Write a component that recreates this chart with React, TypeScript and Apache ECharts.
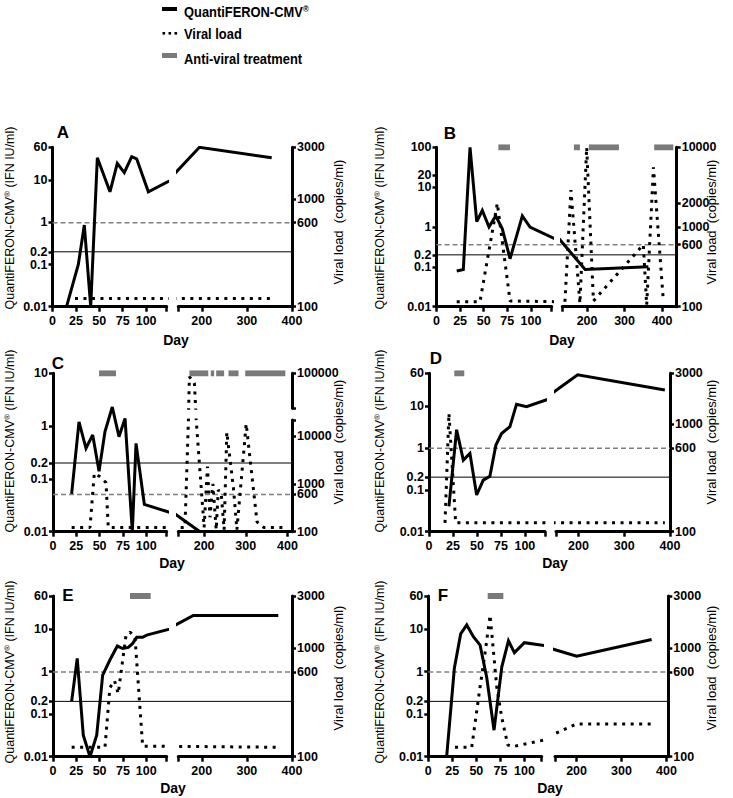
import React, { useEffect, useRef } from 'react';
import * as echarts from 'echarts';

// ---------------- data (day, value) ----------------
// Panel A
const qfnA = [[15, 0.01], [27.6, 0.1], [34, 0.86], [40.8, 0.01], [47.9, 34], [61.4, 5.3], [69.2, 25], [76.7, 15], [84.6, 36], [89.9, 32], [102.4, 5.3], [194.8, 60], [355, 34]];
const vlA = [[24, 119], [355, 119]];
const txA: number[][] = [];
// Panel B
const qfnB = [[21.4, 0.079], [28.4, 0.086], [35.5, 100], [42.6, 1.36], [48.5, 2.6], [55.6, 1.0], [62.7, 1.9], [69.7, 0.9], [77.9, 0.16], [90.9, 1.9], [99, 1.0], [194.7, 0.086], [363.5, 0.1]];
const vlB = [[21.4, 115], [46, 115], [64.4, 1980], [77.9, 118], [141, 115], [157, 2900], [181, 110], [199, 10000], [217, 118], [350, 600], [359, 105], [377, 5600], [403, 125]];
const txB = [[65.5, 77.8], [165, 181], [205, 285], [379, 430]];
// Panel C
const qfnC = [[20, 0.052], [27.9, 1.2], [35.4, 0.38], [42.6, 0.68], [49.4, 0.14], [55.8, 0.79], [63.6, 2.3], [70.8, 0.63], [77.3, 1.4], [85.1, 0.01], [89.1, 0.47], [98, 0.033], [190, 0.01]];
const vlC = [[20, 123], [39.7, 123], [44.3, 1660], [50.4, 1410], [56.9, 1060], [59.3, 123], [154, 123], [164.6, 89000], [176.6, 71000], [200, 123], [208, 2300], [214, 200], [221, 1000], [229, 110], [234, 740], [241, 650], [248, 110], [254.5, 12000], [270.5, 800], [278.7, 110], [301, 18000], [327, 160], [343, 123], [391, 123]];
const txC = [[49.4, 67.6], [164.7, 210], [216, 224], [229, 248], [258.5, 282.6], [298.7, 395]];
// Panel D
const qfnD = [[20.8, 0.04], [28.8, 2.7], [35.8, 0.51], [42.7, 0.74], [49.7, 0.075], [56.6, 0.17], [63.5, 0.21], [69.8, 1.17], [75.7, 2.2], [84.4, 3.2], [91.3, 11], [101.7, 9.6], [198.3, 55], [388.7, 24]];
const vlD = [[16.7, 121], [20.8, 1270], [27.8, 121], [388.7, 121]];
const txD = [[26.4, 36.8]];
// Panel E
const qfnE = [[20, 0.2], [26, 2.05], [32.5, 0.032], [39.7, 0.01], [46.9, 0.032], [53.3, 0.83], [61.2, 1.9], [69, 4.0], [74.8, 3.5], [80.8, 3.7], [85.5, 4.6], [89.8, 6.4], [96.2, 6.4], [100.5, 7.2], [181.3, 21], [369.6, 21]];
const vlE = [[20, 122], [55.8, 122], [61, 430], [66, 500], [70, 380], [78.3, 1300], [82.6, 1400], [88, 1250], [96.2, 125], [369.6, 122]];
const txE = [[82.6, 104.8]];
// Panel F
const qfnF = [[19.1, 0.01], [27.1, 1.2], [33.7, 7.7], [40, 12.5], [46.9, 6.6], [53.9, 4.2], [60.8, 0.73], [68.4, 0.042], [76.5, 1.3], [83.4, 5.3], [89.6, 2.8], [100, 4.8], [200.2, 2.3], [366.9, 5.7]];
const vlF = [[27.8, 122], [45.2, 122], [53.9, 440], [59, 890], [64.3, 2000], [71.2, 440], [76.4, 230], [82.7, 128], [88.5, 124], [200.2, 200], [366.9, 200]];
const txF = [[61.8, 78.1]];

// thresholds
const QFN_CUTOFF = 0.2;
const VL_CUTOFF = 600;

// tick labels
const leftTicks60 = [0.01, 0.1, 0.2, 1, 10, 60];
const leftTicksB = [0.01, 0.1, 0.2, 1, 10, 20, 100];
const leftTicksC = [0.01, 0.1, 0.2, 1, 10];
const rightTicks3000 = [100, 600, 1000, 3000];
const rightTicksB = [100, 600, 1000, 2000, 10000];
const rightTicksCLow = [100, 600, 1000, 10000];
const rightTicksCUp = [100000];
const xTicks1 = [0, 25, 50, 75, 100];
const xTicks2 = [200, 300, 400];

// ---------------- layout ----------------
const FONT = '"Liberation Sans", Arial, Helvetica, sans-serif';

type Panel = {
  letter: string; qfn: number[][]; vl: number[][]; tx: number[][];
  qTicks: number[]; vTicks: number[]; qRange: number[]; vRange: number[];
  L: number; R: number; T: number; B: number; s1End: number; s2Start: number;
  seg1: number[]; seg2: number[];
  letterXY: number[]; lTitleX: number; rTitleX: number; lTitleY: number; rTitleY: number; dayXY: number[];
  vBreak?: { lowTop: number; lowMax: number; upBottom: number; upRange: number[]; lowTicks: number[]; upTicks: number[] };
};

const panels: Panel[] = [
  { letter: 'A', qfn: qfnA, vl: vlA, tx: txA, qTicks: leftTicks60, vTicks: rightTicks3000, qRange: [0.01, 60], vRange: [100, 3000],
    L: 52.5, R: 292, T: 147.3, B: 306.7, s1End: 166.7, s2Start: 178.3, seg1: [0, 122], seg2: [148, 400],
    letterXY: [63, 132], lTitleX: 10, rTitleX: 338, lTitleY: 218, rTitleY: 222, dayXY: [176, 340] },
  { letter: 'B', qfn: qfnB, vl: vlB, tx: txB, qTicks: leftTicksB, vTicks: rightTicksB, qRange: [0.01, 100], vRange: [100, 10000],
    L: 436.5, R: 676.7, T: 147.3, B: 306.7, s1End: 551.7, s2Start: 562.3, seg1: [0, 122], seg2: [134, 439],
    letterXY: [450, 133], lTitleX: 380, rTitleX: 711.7, lTitleY: 218, rTitleY: 222, dayXY: [562, 340] },
  { letter: 'C', qfn: qfnC, vl: vlC, tx: txC, qTicks: leftTicksC, vTicks: rightTicksCLow, qRange: [0.01, 10], vRange: [100, 203900],
    L: 53, R: 292, T: 373.3, B: 531.7, s1End: 166.7, s2Start: 178.3, seg1: [0, 122], seg2: [138, 411],
    letterXY: [58, 363], lTitleX: 10, rTitleX: 338, lTitleY: 441, rTitleY: 442, dayXY: [172, 563],
    vBreak: { lowTop: 420, lowMax: 21600, upBottom: 408.3, upRange: [30000, 100000], lowTicks: rightTicksCLow, upTicks: rightTicksCUp } },
  { letter: 'D', qfn: qfnD, vl: vlD, tx: txD, qTicks: leftTicks60, vTicks: rightTicks3000, qRange: [0.01, 60], vRange: [100, 3000],
    L: 429, R: 670, T: 373.3, B: 531.7, s1End: 545, s2Start: 556, seg1: [0, 121], seg2: [151, 400],
    letterXY: [436, 358], lTitleX: 380, rTitleX: 711.7, lTitleY: 441, rTitleY: 442, dayXY: [555, 563] },
  { letter: 'E', qfn: qfnE, vl: vlE, tx: txE, qTicks: leftTicks60, vTicks: rightTicks3000, qRange: [0.01, 60], vRange: [100, 3000],
    L: 53, R: 292, T: 596, B: 756.7, s1End: 166.7, s2Start: 178.3, seg1: [0, 122], seg2: [148, 400],
    letterXY: [68, 595], lTitleX: 10, rTitleX: 338, lTitleY: 672, rTitleY: 668, dayXY: [173, 788] },
  { letter: 'F', qfn: qfnF, vl: vlF, tx: txF, qTicks: leftTicks60, vTicks: rightTicks3000, qRange: [0.01, 60], vRange: [100, 3000],
    L: 428.3, R: 668.3, T: 596, B: 756.7, s1End: 541.7, s2Start: 555, seg1: [0, 118], seg2: [152, 404],
    letterXY: [443, 595], lTitleX: 380, rTitleX: 711.7, lTitleY: 672, rTitleY: 668, dayXY: [550, 788] },
];

function buildOption() {
  const grid: any[] = [];
  const xAxis: any[] = [];
  const yAxis: any[] = [];
  const series: any[] = [];
  const graphic: any[] = [];
  const black = '#000';
  const labelStyle = { color: black, fontSize: 12.5, lineHeight: 10, fontWeight: 'bold', fontFamily: FONT };

  const addGrid = (l: number, t: number, r: number, b: number) => {
    grid.push({ left: l, top: t, width: r - l, height: b - t, containLabel: false, outerBoundsMode: 'none', show: false });
    return grid.length - 1;
  };
  const addX = (gi: number, range: number[], ticks?: number[], labels?: number[]) => {
    xAxis.push({
      type: 'value', gridIndex: gi, min: range[0], max: range[1], show: !!ticks, position: 'bottom',
      axisLine: { show: true, onZero: false, lineStyle: { color: black, width: 3 } },
      axisTick: { show: true, customValues: ticks, length: 5, lineStyle: { color: black, width: 2.5 } },
      axisLabel: { show: true, customValues: labels, margin: 9, ...labelStyle },
      splitLine: { show: false },
    });
    return xAxis.length - 1;
  };
  const addY = (gi: number, range: number[], position: string, ticks?: number[], labels?: number[]) => {
    yAxis.push({
      type: 'log', logBase: 10, gridIndex: gi, min: range[0], max: range[1], position, show: !!ticks,
      axisLine: { show: true, onZero: false, lineStyle: { color: black, width: 3 } },
      axisTick: { show: true, customValues: ticks, length: 4, lineStyle: { color: black, width: 2.5 } },
      axisLabel: { show: true, customValues: labels, margin: 5, formatter: (v: number) => String(v), ...labelStyle },
      splitLine: { show: false },
      minorTick: { show: false },
    });
    return yAxis.length - 1;
  };
  const line = (xi: number, yi: number, data: number[][], dotted: boolean) => ({
    type: 'line', xAxisIndex: xi, yAxisIndex: yi, data, symbol: 'none', silent: true, z: 3,
    lineStyle: dotted
      ? { color: black, width: 3, type: [3, 5.5], cap: 'butt' }
      : { color: black, width: 3, join: 'miter', miterLimit: 3 },
  });

  for (const p of panels) {
    const broken = !!p.vBreak;
    // full-width grid: visible y axes + threshold lines
    const g0 = addGrid(p.L, p.T, p.R, p.B);
    const x0 = addX(g0, [0, 1]);
    const yq0 = addY(g0, p.qRange, 'left', p.qTicks, p.qTicks);
    const yv0 = broken ? addY(g0, p.vRange, 'right') : addY(g0, p.vRange, 'right', p.vTicks, p.vTicks);
    series.push({
      type: 'line', xAxisIndex: x0, yAxisIndex: yq0, data: [[0, QFN_CUTOFF], [1, QFN_CUTOFF]], symbol: 'none', silent: true, z: 1,
      lineStyle: { color: black, width: 1 },
    });
    series.push({
      type: 'line', xAxisIndex: x0, yAxisIndex: yv0, data: [[0, VL_CUTOFF], [1, VL_CUTOFF]], symbol: 'none', silent: true, z: 1,
      lineStyle: { color: '#808080', width: 1.5, type: [5, 3] },
    });

    const segs = [
      { l: p.L, r: p.s1End, range: p.seg1, ticks: [...xTicks1, p.seg1[1]], labels: xTicks1 },
      { l: p.s2Start, r: p.R, range: p.seg2, ticks: [p.seg2[0], ...xTicks2.filter((t) => t <= p.seg2[1])], labels: xTicks2 },
    ];
    segs.forEach((s, i) => {
      const g = addGrid(s.l, p.T, s.r, p.B);
      const xi = addX(g, s.range, s.ticks, s.labels);
      const yq = addY(g, p.qRange, 'left');
      const yv = addY(g, p.vRange, 'right');
      series.push(line(xi, yq, p.qfn, false));
      if (!broken || i === 0) series.push(line(xi, yv, p.vl, true));
      p.tx.forEach((t) => {
        if (t[1] <= s.range[0] || t[0] >= s.range[1]) return;
        series.push({
          type: 'line', xAxisIndex: xi, yAxisIndex: yq, data: [[t[0], p.qRange[1]], [t[1], p.qRange[1]]], symbol: 'none', silent: true, z: 4,
          lineStyle: { color: '#7a7a7a', width: 6, cap: 'butt' },
        });
      });
    });

    if (p.vBreak) {
      const vb = p.vBreak;
      const gl = addGrid(p.s2Start, vb.lowTop, p.R, p.B);
      const xl = addX(gl, p.seg2);
      const yl = addY(gl, [100, vb.lowMax], 'right', [...vb.lowTicks, vb.lowMax * 0.995], vb.lowTicks);
      series.push(line(xl, yl, p.vl, true));
      const gu = addGrid(p.s2Start, p.T, p.R, vb.upBottom);
      const xu = addX(gu, p.seg2);
      const yu = addY(gu, vb.upRange, 'right', [vb.upRange[0] * 1.005, ...vb.upTicks], vb.upTicks);
      series.push(line(xu, yu, p.vl, true));
    }

    // texts
    graphic.push({ type: 'text', x: p.letterXY[0], y: p.letterXY[1], silent: true,
      style: { text: p.letter, fill: black, fontSize: 17, fontWeight: 'bold', fontFamily: FONT, align: 'center', verticalAlign: 'middle' } });
    graphic.push({ type: 'text', x: p.lTitleX, y: p.lTitleY, rotation: Math.PI / 2, silent: true,
      style: { text: '{a|QuantiFERON-CMV}{s|®}{a| (IFN IU/ml)}', fill: black, fontSize: 12.5, fontFamily: FONT, align: 'center', verticalAlign: 'middle',
        rich: { a: { fontSize: 12.5, fontFamily: FONT, fill: black }, s: { fontSize: 8, fontFamily: FONT, fill: black, verticalAlign: 'top' } } } });
    graphic.push({ type: 'text', x: p.rTitleX, y: p.rTitleY, rotation: Math.PI / 2, silent: true,
      style: { text: 'Viral load  (copies/ml)', fill: black, fontSize: 13, fontFamily: FONT, align: 'center', verticalAlign: 'middle' } });
    graphic.push({ type: 'text', x: p.dayXY[0], y: p.dayXY[1], silent: true,
      style: { text: 'Day', fill: black, fontSize: 14, fontWeight: 'bold', fontFamily: FONT, align: 'center', verticalAlign: 'middle' } });
  }

  // legend
  graphic.push({ type: 'rect', shape: { x: 162, y: 7, width: 15, height: 4 }, style: { fill: black }, silent: true });
  [162.5, 168.5, 174.5].forEach((x) => graphic.push({ type: 'rect', shape: { x, y: 32, width: 2.6, height: 2.6 }, style: { fill: black }, silent: true }));
  graphic.push({ type: 'rect', shape: { x: 162, y: 53, width: 15, height: 5 }, style: { fill: '#7a7a7a' }, silent: true });
  const legendText = (y: number, text: string, rich?: any) => ({
    type: 'text', x: 184, y, scaleX: 0.86, silent: true,
    style: { text, fill: black, fontSize: 15, fontWeight: 'bold', fontFamily: FONT, align: 'left', verticalAlign: 'middle', rich },
  });
  graphic.push(legendText(12, '{a|QuantiFERON-CMV}{s|®}', {
    a: { fontSize: 15, fontWeight: 'bold', fontFamily: FONT, fill: black },
    s: { fontSize: 9, fontWeight: 'bold', fontFamily: FONT, fill: black, verticalAlign: 'top' },
  }));
  graphic.push(legendText(33.5, 'Viral load'));
  graphic.push(legendText(58.3, 'Anti-viral treatment'));

  return { animation: false, backgroundColor: '#fff', grid, xAxis, yAxis, series, graphic };
}

export default function App() {
  const ref = useRef<HTMLDivElement>(null);
  useEffect(() => {
    if (!ref.current) return;
    const chart = echarts.init(ref.current, undefined, { renderer: 'svg', width: 733, height: 798 });
    chart.setOption(buildOption() as any);
    return () => chart.dispose();
  }, []);
  return <div ref={ref} style={{ position: 'fixed', left: 0, top: 0, width: 733, height: 798, background: '#fff' }} />;
}
